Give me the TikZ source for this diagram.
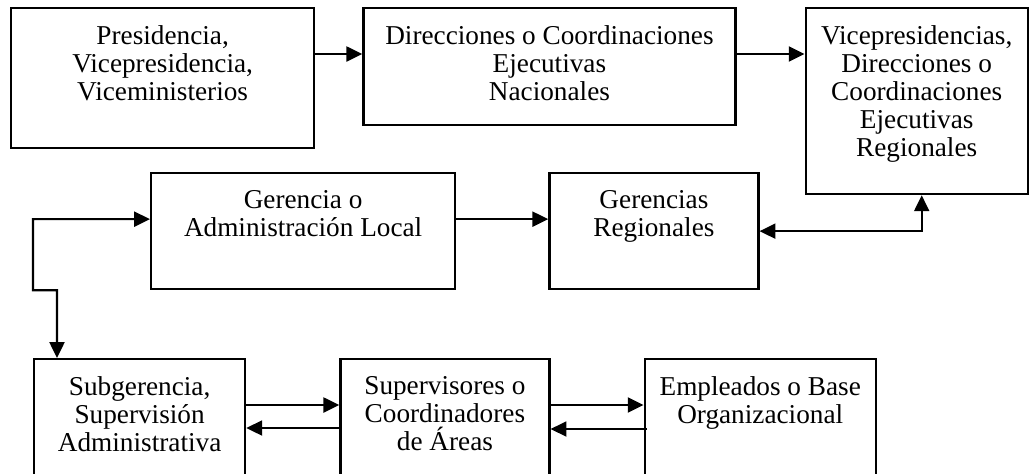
\documentclass[tikz,border=0pt]{standalone}
\usepackage{fontspec}
\setmainfont{Liberation Serif}
\usepackage{tikz}
\usetikzlibrary{arrows.meta,positioning}

\begin{document}
\begin{tikzpicture}[
  box/.style={draw, line width=1.3pt, inner sep=0pt, anchor=north west},
  txt/.style={anchor=north, align=center, inner sep=0pt, yshift=-10pt, font=\fontsize{15.5}{15.9}\selectfont},
  >={Triangle[length=9pt,width=8.5pt]}, line width=1.2pt
]
\useasboundingbox (0,0) rectangle (20.58,-9.46);
% top row
\node[box, minimum width=6.06cm, minimum height=2.8cm,
  label={[txt]north:Presidencia,\\Vicepresidencia,\\Viceministerios}] (pres) at (0.2,-0.14) {};
\node[box, minimum width=7.44cm, minimum height=2.34cm, right=0.94cm of pres.north east, anchor=north west,
  label={[txt]north:Direcciones o Coordinaciones\\Ejecutivas\\Nacionales}] (dirnac) {};
\node[box, minimum width=4.44cm, minimum height=3.72cm, right=1.36cm of dirnac.north east, anchor=north west,
  label={[txt]north:Vicepresidencias,\\Direcciones o\\Coordinaciones\\Ejecutivas\\Regionales}] (vicereg) {};
% middle row
\node[box, minimum width=6.08cm, minimum height=2.32cm,
  label={[txt]north:Gerencia o\\Administración Local}] (gerlocal) at (3.0,-3.44) {};
\node[box, minimum width=4.18cm, minimum height=2.32cm, right=1.84cm of gerlocal, anchor=west,
  label={[txt]north:Gerencias\\Regionales}] (gerreg) {};
% bottom row
\node[box, minimum width=4.22cm, minimum height=2.8cm,
  label={[txt]north:Subgerencia,\\Supervisión\\Administrativa}] (subger) at (0.66,-7.16) {};
\node[box, minimum width=4.18cm, minimum height=2.8cm, right=1.86cm of subger.north east, anchor=north west,
  label={[txt]north:Supervisores o\\Coordinadores\\de Áreas}] (superv) {};
\node[box, minimum width=4.62cm, minimum height=2.8cm, right=1.86cm of superv.north east, anchor=north west,
  label={[txt]north:Empleados o Base\\Organizacional}] (empl) {};

\draw[->] ([yshift=-9.4mm]pres.north east) -- ([yshift=-9.4mm]dirnac.north west);
\draw[->] ([yshift=-9.4mm]dirnac.north east) -- ([yshift=-9.4mm]vicereg.north west);
\draw[<->] (gerreg.east) -| ([xshift=1mm]vicereg.south);
\draw[->] ([yshift=2.4mm]gerlocal.east) -- ([yshift=2.4mm]gerreg.west);
\draw[<->] ([yshift=2.4mm]gerlocal.west) -| (subger.west |- gerlocal.south) -- ++(0.48,0) -- ([xshift=4.8mm]subger.north west);
\draw[->] ([yshift=-9.4mm]subger.north east) -- ([yshift=-9.4mm]superv.north west);
\draw[->] ([yshift=-14mm]superv.north west) -- ([yshift=-14mm]subger.north east);
\draw[->] ([yshift=-9.4mm]superv.north east) -- ([yshift=-9.4mm]empl.north west);
\draw[->, shorten <=-2pt] ([yshift=-14.2mm]empl.north west) -- ([yshift=-14.2mm]superv.north east);
\end{tikzpicture}
\end{document}
